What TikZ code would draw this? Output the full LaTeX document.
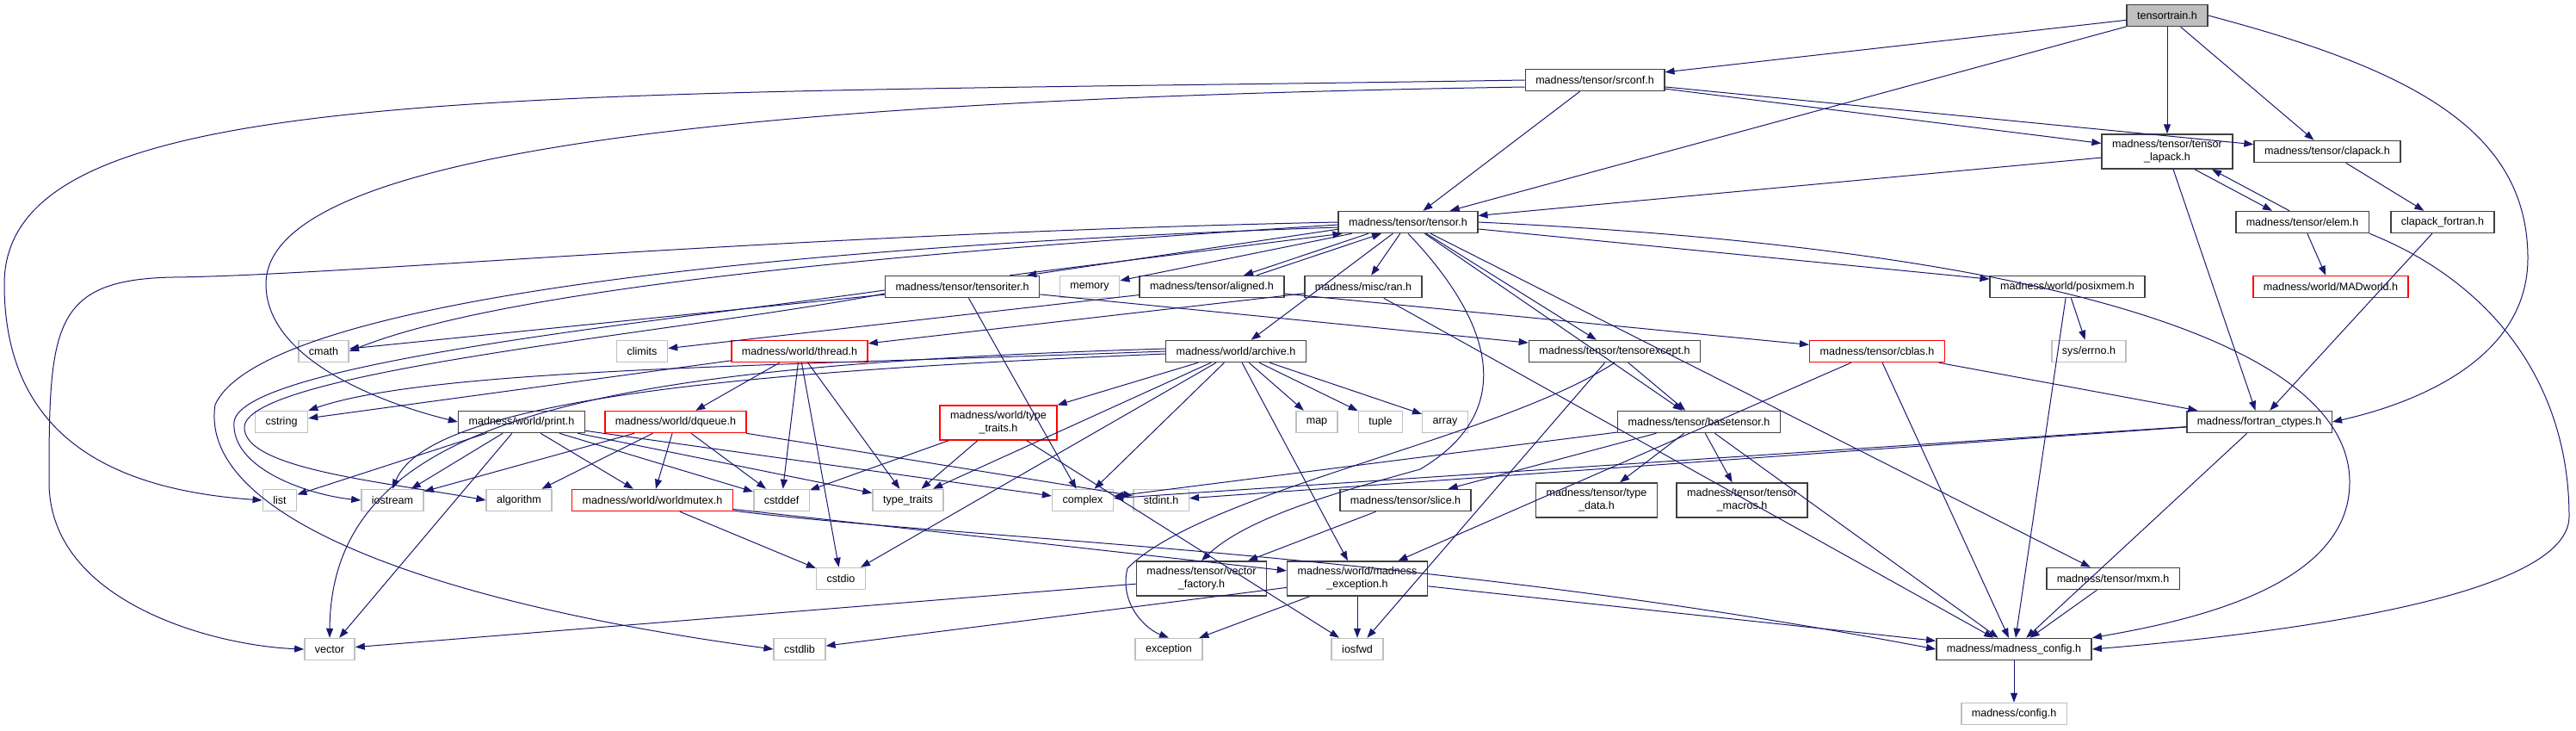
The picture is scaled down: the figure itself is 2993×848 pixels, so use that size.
\documentclass[tikz,border=0pt]{standalone}
\usepackage{fontspec}
\setmainfont{Liberation Sans}
\usepackage{tikz}
\usetikzlibrary{arrows.meta, calc}
\definecolor{edgeblue}{RGB}{25,25,112}
\definecolor{docborder}{RGB}{64,64,64}
\definecolor{sysborder}{RGB}{191,191,191}
\definecolor{rootfill}{RGB}{191,191,191}
\definecolor{truncred}{RGB}{255,0,0}
\tikzset{
  hdr/.style={rectangle, draw=docborder, line width=0.75pt, fill=white,
              minimum height=12.5pt, inner xsep=6pt, inner ysep=1pt,
              font=\fontsize{6.28}{7.5}\selectfont, align=center},
  hdrtwo/.style={hdr, minimum height=20pt},
  sys/.style={hdr, draw=sysborder},
  trunc/.style={hdr, draw=truncred},
  trunctwo/.style={hdrtwo, draw=truncred},
  root/.style={hdr, fill=rootfill},
  arr/.style={-{Triangle[length=5.5pt,width=4pt]}, line width=0.5pt, draw=edgeblue},
}

\begin{document}
\begin{tikzpicture}[x=0.5pt, y=-0.5pt]
\useasboundingbox (0,0) rectangle (2993,848);
% Wurzel und obere Ebenen
\node[root] (tt) at (2518,18) {tensortrain.h};
\node[hdr] (srconf) at (1853,93) {madness/tensor/srconf.h};
\node[hdrtwo] (lapack) at (2518,176) {madness/tensor/tensor\\\_lapack.h};
\node[hdr] (clapack) at (2704,176) {madness/tensor/clapack.h};
\node[hdr] (tensor) at (1636,258) {madness/tensor/tensor.h};
\node[hdr] (elem) at (2675,258) {madness/tensor/elem.h};
\node[hdr] (clapackf) at (2838,258) {clapack\_fortran.h};
% Ebene 3
\node[hdr] (tensoriter) at (1118,333) {madness/tensor/tensoriter.h};
\node[sys] (memory) at (1266,333) {memory};
\node[hdr] (aligned) at (1408,333) {madness/tensor/aligned.h};
\node[hdr] (ran) at (1584,333) {madness/misc/ran.h};
\node[hdr] (posixmem) at (2402,333) {madness/world/posixmem.h};
\node[trunc] (madworld) at (2708,333) {madness/world/MADworld.h};
% Ebene 4
\node[sys] (cmath) at (376,408) {cmath};
\node[sys] (climits) at (746,408) {climits};
\node[trunc] (thread) at (929,408) {madness/world/thread.h};
\node[hdr] (archive) at (1436,408) {madness/world/archive.h};
\node[hdr] (tensorexcept) at (1876,408) {madness/tensor/tensorexcept.h};
\node[trunc] (cblas) at (2181,408) {madness/tensor/cblas.h};
\node[sys] (syserrno) at (2427,408) {sys/errno.h};
% Ebene 5
\node[sys] (cstring) at (327,490) {cstring};
\node[hdr] (print) at (606,490) {madness/world/print.h};
\node[trunc] (dqueue) at (785,490) {madness/world/dqueue.h};
\node[trunctwo] (wtypetraits) at (1160,491) {madness/world/type\\\_traits.h};
\node[sys] (map) at (1530,490) {map};
\node[sys] (tuple) at (1604,490) {tuple};
\node[sys] (array) at (1679,490) {array};
\node[hdr] (basetensor) at (1974,490) {madness/tensor/basetensor.h};
\node[hdr] (fctypes) at (2625,490) {madness/fortran\_ctypes.h};
% Ebene 6
\node[sys] (list) at (325,581) {list};
\node[sys] (iostream) at (456,581) {iostream};
\node[sys] (algorithm) at (603,581) {algorithm};
\node[trunc] (worldmutex) at (758,581) {madness/world/worldmutex.h};
\node[sys] (cstddef) at (908,581) {cstddef};
\node[sys] (typetraits) at (1055,581) {type\_traits};
\node[sys] (complex) at (1258,581) {complex};
\node[sys] (stdint) at (1349,581) {stdint.h};
\node[hdr] (slice) at (1633,581) {madness/tensor/slice.h};
\node[hdrtwo] (typedata) at (1855,581) {madness/tensor/type\\\_data.h};
\node[hdrtwo] (tmacros) at (2024,581) {madness/tensor/tensor\\\_macros.h};
% Ebene 7
\node[sys] (cstdio) at (977,672) {cstdio};
\node[hdrtwo] (vfactory) at (1396,672) {madness/tensor/vector\\\_factory.h};
\node[hdrtwo] (madexc) at (1577,672) {madness/world/madness\\\_exception.h};
\node[hdr] (mxm) at (2455,672) {madness/tensor/mxm.h};
% Ebene 8 und 9
\node[sys] (vector) at (383,754) {vector};
\node[sys] (cstdlib) at (929,754) {cstdlib};
\node[sys] (exception) at (1358,754) {exception};
\node[sys] (iosfwd) at (1577,754) {iosfwd};
\node[hdr] (mconfig) at (2340,754) {madness/madness\_config.h};
\node[sys] (config) at (2340,829) {madness/config.h};

% gerade Abhaengigkeiten
\foreach \a/\b in {tt/srconf, tt/tensor, tt/lapack, tt/clapack,
    srconf/tensor, srconf/clapack, srconf/lapack,
    lapack/tensor, lapack/fctypes, clapack/clapackf, clapackf/fctypes, elem/madworld,
    tensor/memory, tensor/ran, tensor/archive, tensor/tensorexcept, tensor/basetensor,
    tensor/posixmem, tensor/mxm,
    tensoriter/cmath, tensoriter/complex, tensoriter/tensorexcept,
    aligned/climits, aligned/cblas,
    ran/thread, ran/mconfig, posixmem/syserrno, posixmem/mconfig,
    archive/wtypetraits, archive/map, archive/tuple, archive/array, archive/complex,
    archive/cstdio, archive/madexc, archive/typetraits,
    tensorexcept/basetensor, tensorexcept/iosfwd,
    cblas/fctypes, cblas/madexc, cblas/mconfig,
    basetensor/slice, basetensor/typedata, basetensor/tmacros, basetensor/mconfig, basetensor/complex,
    slice/vfactory, vfactory/vector,
    madexc/iosfwd, madexc/exception, madexc/cstdlib, madexc/mconfig,
    mxm/mconfig, fctypes/mconfig, fctypes/complex, fctypes/stdint, mconfig/config,
    print/list, print/iostream, print/vector, print/worldmutex, print/typetraits, print/complex, print/cstddef,
    dqueue/iostream, dqueue/algorithm, dqueue/worldmutex, dqueue/cstddef, dqueue/stdint,
    thread/dqueue, thread/cstddef, thread/cstdio, thread/typetraits, thread/cstring,
    wtypetraits/cstddef, wtypetraits/typetraits, wtypetraits/iosfwd,
    worldmutex/cstdio, worldmutex/madexc}
  \draw[arr] (\a) -- (\b);

% gegenseitige Includes
\draw[arr] ($(lapack.south)+(32,0)$) -- ($(elem.north)+(-35,0)$);
\draw[arr] ($(elem.north)+(-15,0)$) -- ($(lapack.south)+(52,0)$);
\draw[arr] ($(tensor.south west)+(0,-5)$) -- ($(tensoriter.north east)+(-15,0)$);
\draw[arr] ($(tensoriter.north east)+(-35,0)$) -- ($(tensor.south west)+(5,0)$);
\draw[arr] ($(tensor.south)+(-46,0)$) -- ($(aligned.north)+(37,0)$);
\draw[arr] ($(aligned.north)+(52,0)$) -- ($(tensor.south)+(-31,0)$);

% gebogene Kanten nach links
\draw[arr] ($(tensor.west)+(0,3)$) .. controls (1100,290) and (600,330) .. (cmath.east);
\draw[arr] ($(tensoriter.west)+(0,4)$) .. controls (800,370) and (280,420) .. (272,490)
  .. controls (268,545) and (360,575) .. (iostream.west);
\draw[arr] ($(tensoriter.west)+(0,8)$) .. controls (800,385) and (292,430) .. (284,495)
  .. controls (280,545) and (450,560) .. (algorithm.west);
\draw[arr] ($(archive.west)+(0,3)$) .. controls (900,430) and (500,460) .. (iostream.north);
\draw[arr] ($(archive.west)+(0,-3)$) .. controls (700,425) and (385,480) .. (vector.north);
\draw[arr] (archive.west) .. controls (900,425) and (500,428) .. (cstring.north east);
\draw[arr] (tensor.south) .. controls (1740,380) and (1760,480) .. (1650,545)
  .. controls (1560,570) and (1450,600) .. (vfactory.north);
\draw[arr] (tensorexcept.south) .. controls (1740,510) and (1400,570) .. (1310,660)
  .. controls (1300,700) and (1330,730) .. (exception.north);
\draw[arr] (worldmutex) .. controls (1100,625) and (1650,640) .. (mconfig.west);

% lange Boegen
\draw[arr] (srconf.west) .. controls (600,112) and (5,90) .. (5,330)
  .. controls (5,520) and (150,570) .. (list.west);
\draw[arr] ($(srconf.west)+(0,8)$) .. controls (900,115) and (309,170) .. (309,330)
  .. controls (309,420) and (450,470) .. (print.west);
\draw[arr] (tensor.west) .. controls (900,272) and (400,320) .. (200,322)
  .. controls (60,325) and (57,380) .. (57,560) .. controls (57,700) and (250,750) .. (vector.west);
\draw[arr] ($(tensor.west)+(0,6)$) .. controls (800,290) and (300,360) .. (250,470)
  .. controls (230,600) and (500,700) .. (cstdlib.west);
\draw[arr] (tt.east) .. controls (2800,80) and (2937,150) .. (2937,300)
  .. controls (2937,420) and (2800,470) .. (fctypes.east);
\draw[arr] (elem.south east) .. controls (2900,330) and (2985,450) .. (2985,600)
  .. controls (2985,700) and (2600,740) .. (mconfig.east);
\draw[arr] (tensor.east) .. controls (2300,285) and (2730,380) .. (2730,560)
  .. controls (2730,680) and (2550,720) .. (mconfig.north east);

\end{tikzpicture}
\end{document}
